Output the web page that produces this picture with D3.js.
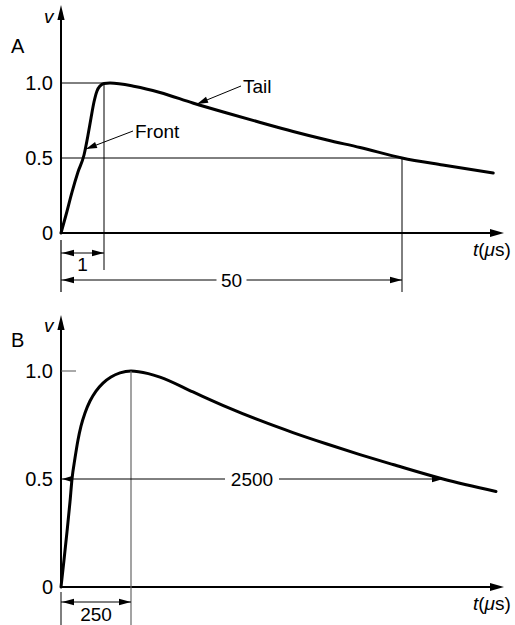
<!DOCTYPE html>
<html>
<head>
<meta charset="utf-8">
<script src="https://cdn.jsdelivr.net/npm/d3@7"></script>
<style>
  html, body { margin: 0; padding: 0; background: #fff; }
  svg { display: block; }
  text { font-family: "Liberation Sans", Arial, Helvetica, sans-serif; fill: #000; }
</style>
</head>
<body>
<svg id="chart" width="515" height="625"></svg>
<script>
// ---------- Data ----------
// Panel A: standard 1/50 µs impulse (schematic time axis)
const timeA = [0, 0.116, 0.256, 0.395, 0.535, 0.628, 0.698, 0.767, 0.837, 0.907, 1.0, 1.99, 6.1, 10.2, 15.6, 21.2, 26.7, 32.1, 37.7, 43.1, 50, 56.7, 65];
const voltA = [0, 0.12, 0.273, 0.407, 0.52, 0.653, 0.767, 0.873, 0.947, 0.98, 0.997, 1.0, 0.977, 0.937, 0.867, 0.80, 0.737, 0.677, 0.62, 0.57, 0.5, 0.453, 0.40];
// Panel B: 250/2500 µs switching impulse (schematic time axis)
const timeB = [0, 10.7, 21.4, 32.1, 39.3, 50, 60.7, 71.4, 85.7, 103.6, 125, 150, 178.6, 210.7, 250, 375, 459, 697, 942, 1180, 1418, 1663, 1901, 2139, 2500, 2882];
const voltB = [0, 0.125, 0.255, 0.394, 0.5, 0.597, 0.681, 0.745, 0.806, 0.861, 0.907, 0.944, 0.972, 0.991, 1.0, 0.988, 0.972, 0.903, 0.833, 0.771, 0.715, 0.662, 0.613, 0.567, 0.5, 0.442];
const yTicks = [0, 0.5, 1.0];
const timeKeysA = [0, 1, 50];
const timeKeysB = [0, 250, 2500];
const panelLabels = ["A", "B"];

// ---------- Setup ----------
const svg = d3.select("#chart");
const FS = 19, FS_TICK = 20;

function arrowHead(g, tipX, tipY, dirX, dirY, len, half) {
  const n = Math.hypot(dirX, dirY); const ux = dirX / n, uy = dirY / n;
  const bx = tipX - ux * len, by = tipY - uy * len;
  const px = -uy * half, py = ux * half;
  g.append("path")
    .attr("d", `M${tipX},${tipY}L${bx + px},${by + py}L${bx - px},${by - py}Z`)
    .attr("fill", "#000");
}
function hLine(g, x1, x2, y, w, col) {
  g.append("line").attr("x1", x1).attr("x2", x2).attr("y1", y).attr("y2", y)
    .attr("stroke", col || "#000").attr("stroke-width", w || 1);
}
function vLine(g, x, y1, y2, w, col) {
  g.append("line").attr("x1", x).attr("x2", x).attr("y1", y1).attr("y2", y2)
    .attr("stroke", col || "#000").attr("stroke-width", w || 1);
}

function drawPanel(opts) {
  const { x, y, times, volts, label, yTop, xEnd, labelY, vY } = opts;
  const g = svg.append("g");
  const x0 = x(0), y0 = y(0);

  const ax = d3.axisLeft(y).tickValues(yTicks)
    .tickFormat(d => d === 0 ? "0" : d3.format(".1f")(d))
    .tickSize(0).tickPadding(8);
  const axG = g.append("g").attr("transform", `translate(${x0},0)`).call(ax);
  axG.select(".domain").remove();
  axG.selectAll("text").attr("font-size", FS_TICK).attr("font-family", '"Liberation Sans", Arial, sans-serif').attr("fill", "#000");

  vLine(g, x0, y0 + 1, yTop + 12, 2);
  arrowHead(g, x0, yTop, 0, -1, 15, 3.6);
  hLine(g, x0 - 1, xEnd - 11, y0, 2);
  arrowHead(g, xEnd, y0, 1, 0, 14, 4);

  g.append("text").attr("x", 44).attr("y", vY).attr("font-size", FS).attr("font-style", "italic").text("v");
  g.append("text").attr("x", 11).attr("y", labelY).attr("font-size", FS_TICK).text(label);
  const tt = g.append("text").attr("x", 473).attr("y", y0 + 23).attr("font-size", FS);
  tt.append("tspan").attr("font-style", "italic").text("t");
  tt.append("tspan").text("(");
  tt.append("tspan").attr("font-style", "italic").text("\u03BC");
  tt.append("tspan").text("s)");

  const pts = times.map((t, i) => [x(t), y(volts[i])]);
  g.append("path").datum(pts)
    .attr("d", d3.line().curve(d3.curveMonotoneX))
    .attr("fill", "none").attr("stroke", "#000").attr("stroke-width", 3)
    .attr("stroke-linejoin", "round").attr("stroke-linecap", "round");
  return g;
}

// ---------- Panel A ----------
const xA = d3.scaleLinear().domain(timeKeysA).range([61, 104, 402]);
const yA = d3.scaleLinear().domain([0, 1]).range([233, 83]);
const gA = drawPanel({ x: xA, y: yA, times: timeA, volts: voltA, label: panelLabels[0], yTop: 5, xEnd: 504, labelY: 53, vY: 23 });

hLine(gA, xA(0), xA(1), yA(1), 1);
hLine(gA, xA(0), xA(50), yA(0.5), 1);
vLine(gA, xA(1), yA(1), 270, 1);
vLine(gA, xA(50), yA(0.5), 292, 1);
vLine(gA, xA(0), 240, 292, 1.5, "#333");

{
  const yy = 253;
  hLine(gA, xA(0), xA(1), yy, 1);
  arrowHead(gA, xA(0) + 1, yy, -1, 0, 12, 3.2);
  arrowHead(gA, xA(1), yy, 1, 0, 12, 3.2);
  gA.append("text").attr("x", (xA(0) + xA(1)) / 2).attr("y", 271).attr("text-anchor", "middle").attr("font-size", FS).text(timeKeysA[1]);
}
{
  const yy = 280, cx = (xA(0) + xA(50)) / 2;
  hLine(gA, xA(0), cx - 15, yy, 1);
  hLine(gA, cx + 15, xA(50), yy, 1);
  arrowHead(gA, xA(0) + 1, yy, -1, 0, 12, 3.2);
  arrowHead(gA, xA(50), yy, 1, 0, 12, 3.2);
  gA.append("text").attr("x", cx).attr("y", yy + 7).attr("text-anchor", "middle").attr("font-size", FS).text(timeKeysA[2]);
}
{
  const tip = [xA(0.58), yA(0.56)];
  gA.append("line").attr("x1", 133).attr("y1", 131).attr("x2", tip[0]).attr("y2", tip[1]).attr("stroke", "#000").attr("stroke-width", 1);
  arrowHead(gA, tip[0], tip[1], tip[0] - 133, tip[1] - 131, 11, 3.2);
  gA.append("text").attr("x", 135).attr("y", 138).attr("font-size", FS).text("Front");

  const tip2 = [xA(16.3), yA(0.86)];
  gA.append("line").attr("x1", 241).attr("y1", 86).attr("x2", tip2[0]).attr("y2", tip2[1]).attr("stroke", "#000").attr("stroke-width", 1);
  arrowHead(gA, tip2[0], tip2[1], tip2[0] - 241, tip2[1] - 86, 11, 3.2);
  gA.append("text").attr("x", 243).attr("y", 93).attr("font-size", FS).text("Tail");
}

// ---------- Panel B ----------
const xB = d3.scaleLinear().domain(timeKeysB).range([61, 131, 443]);
const yB = d3.scaleLinear().domain([0, 1]).range([587, 371]);
const gB = drawPanel({ x: xB, y: yB, times: timeB, volts: voltB, label: panelLabels[1], yTop: 315, xEnd: 504, labelY: 347, vY: 332 });

hLine(gB, xB(0), xB(0) + 15, yB(1), 1, "#555");
vLine(gB, xB(250), yB(1), 625, 1.2, "#666");
vLine(gB, xB(0), 592, 625, 1.5, "#555");

{
  const yy = 602;
  hLine(gB, xB(0), xB(250), yy, 1);
  arrowHead(gB, xB(0) + 1, yy, -1, 0, 12, 3.2);
  arrowHead(gB, xB(250), yy, 1, 0, 12, 3.2);
  gB.append("text").attr("x", (xB(0) + xB(250)) / 2).attr("y", 621).attr("text-anchor", "middle").attr("font-size", FS).text(timeKeysB[1]);
}
{
  const yy = yB(0.5), cx = (xB(0) + xB(2500)) / 2;
  hLine(gB, xB(0), cx - 27, yy, 1);
  hLine(gB, cx + 27, xB(2500), yy, 1);
  arrowHead(gB, xB(0) + 1, yy, -1, 0, 11, 3.2);
  arrowHead(gB, xB(2500), yy, 1, 0, 11, 3.2);
  gB.append("text").attr("x", cx).attr("y", yy + 7).attr("text-anchor", "middle").attr("font-size", FS).text(timeKeysB[2]);
}
</script>
</body>
</html>
